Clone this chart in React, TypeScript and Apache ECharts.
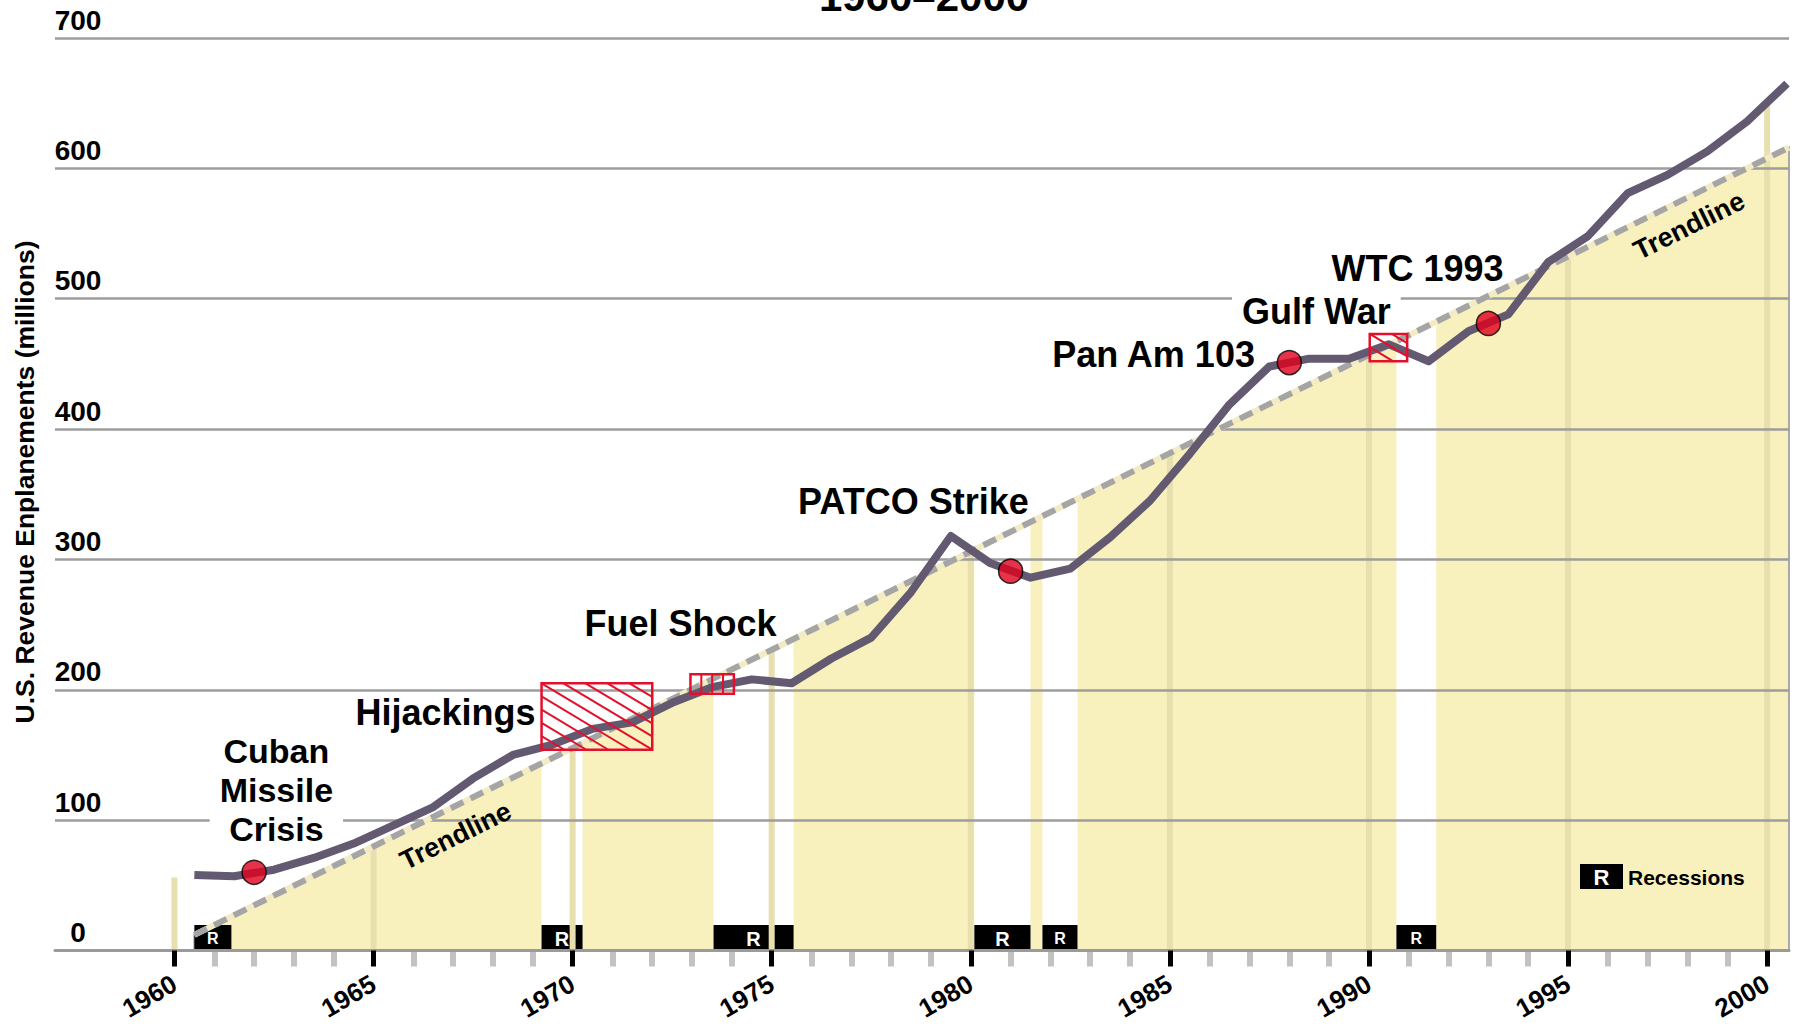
import React, { useEffect, useRef } from "react";
import * as echarts from "echarts";

// ---------- data ----------
const years = [
  1960, 1961, 1962, 1963, 1964, 1965, 1966, 1967, 1968, 1969,
  1970, 1971, 1972, 1973, 1974, 1975, 1976, 1977, 1978, 1979,
  1980, 1981, 1982, 1983, 1984, 1985, 1986, 1987, 1988, 1989,
  1990, 1991, 1992, 1993, 1994, 1995, 1996, 1997, 1998, 1999, 2000,
];
// U.S. revenue enplanements (millions), annual totals (plotted at mid-year)
const enplanements = [
  58, 57, 62, 71, 82, 96, 110, 132, 150, 158,
  170, 175, 190, 202, 208, 205, 224, 240, 275, 318,
  297, 286, 293, 317, 345, 381, 419, 448, 454, 454,
  465, 452, 475, 488, 528, 548, 581, 595, 613, 636, 665,
];

const majorYears = [1960, 1965, 1970, 1975, 1980, 1985, 1990, 1995, 2000];
const minorYears = years.filter((y) => y % 5 !== 0);
const yTicks = [0, 100, 200, 300, 400, 500, 600, 700];

// trendline end points
const trendYears = [1960.5, 2000.55];
const trendValues = [12, 616];

// height of the shaded 5-year guide lines
const guideTops = [56, 80, 155, 231, 306, 381, 457, 532, 651];

// recessions
const recessionStart = [1960.5, 1969.22, 1973.54, 1980.09, 1981.8, 1990.69];
const recessionEnd = [1961.43, 1970.25, 1975.55, 1981.5, 1982.68, 1991.69];

// events marked with a dot
const eventYears = [1962, 1981, 1988, 1993];
const eventValues = [60, 291, 451, 481];

// hatched event periods
const hatchNames = ["Hijackings", "Fuel Shock", "Gulf War"];
const hatchStart = [1969.22, 1972.96, 1990.02];
const hatchEnd = [1972.0, 1974.05, 1990.96];
const hatchLow = [154, 197, 452];
const hatchHigh = [205, 212, 473];
const hatchKind = ["diagonal", "vertical", "diagonal"];

// annotation texts
const annotationTexts = [
  "Cuban\nMissile\nCrisis",
  "Hijackings",
  "Fuel Shock",
  "PATCO Strike",
  "Pan Am 103",
  "Gulf War",
  "WTC 1993",
];
// annotation anchors (data space) + alignment
const annotationLayout = [
  { x: 1962.56, y: 123.5, align: "center", boxed: true, size: 34 },
  { x: 1969.07, y: 182.9, align: "right", boxed: false, size: 36 },
  { x: 1972.71, y: 251.2, align: "center", boxed: false, size: 36 },
  { x: 1978.56, y: 344.7, align: "center", boxed: false, size: 36 },
  { x: 1984.59, y: 457.4, align: "center", boxed: false, size: 36 },
  { x: 1988.68, y: 490.4, align: "center", boxed: true, size: 36 },
  { x: 1991.22, y: 523.4, align: "center", boxed: false, size: 36 },
];
const trendLabelLayout = [
  { x: 1967.06, y: 88 },
  { x: 1998.04, y: 556 },
];

const FONT = "'Liberation Sans', Arial, Helvetica, sans-serif";
const RED = "#e3102c";
const YELLOW = "#f8f1be";
const GUIDE = "#e7dfae";

function trendAt(yr: number) {
  const t = (yr - trendYears[0]) / (trendYears[1] - trendYears[0]);
  return trendValues[0] + t * (trendValues[1] - trendValues[0]);
}

export default function App() {
  const ref = useRef<HTMLDivElement>(null);

  useEffect(() => {
    if (!ref.current) return;
    const chart = echarts.init(ref.current, undefined, { renderer: "svg" });

    const lineData = years.map((y, i) => [y + 0.5, enplanements[i]]);
    const trendData = trendYears.map((y, i) => [y, trendValues[i]]);

    const option: any = {
      animation: false,
      backgroundColor: "#ffffff",
      grid: {
        left: 55,
        right: 8,
        top: 38,
        bottom: 75.5,
        containLabel: false,
        outerBoundsMode: "none",
      },
      xAxis: [
        {
          type: "value",
          min: 1957,
          max: 2000.55,
          position: "bottom",
          z: 5,
          axisLine: { show: true, onZero: false, lineStyle: { color: "#9a9a9a", width: 3 } },
          axisTick: {
            show: true,
            customValues: majorYears,
            length: 16,
            lineStyle: { color: "#000000", width: 5 },
          },
          axisLabel: {
            show: true,
            customValues: majorYears,
            rotate: 30,
            margin: 31,
            fontSize: 26,
            fontWeight: "bold",
            fontFamily: FONT,
            color: "#000",
            formatter: (v: number) => String(Math.round(v)),
          },
          splitLine: { show: false },
        },
        {
          type: "value",
          min: 1957,
          max: 2000.55,
          position: "bottom",
          z: 4,
          axisLine: { show: false },
          axisTick: {
            show: true,
            customValues: minorYears,
            length: 16,
            lineStyle: { color: "#c2c2c2", width: 6 },
          },
          axisLabel: { show: false },
          splitLine: { show: false },
        },
      ],
      yAxis: {
        type: "value",
        min: 0,
        max: 700,
        interval: 100,
        z: 5,
        axisLine: { show: false },
        axisTick: { show: false },
        splitLine: { show: true, lineStyle: { color: "#9d9d9d", width: 2.5 } },
        axisLabel: {
          margin: -23,
          align: "center",
          verticalAlign: "bottom",
          padding: [0, 0, 4, 0],
          fontSize: 28,
          fontWeight: "bold",
          fontFamily: FONT,
          color: "#000",
          formatter: (v: number) => (yTicks.includes(v) ? String(v) : ""),
        },
      },
      graphic: [
        {
          type: "text",
          x: 924,
          y: -3.5,
          style: {
            text: "1960\u20132000",
            fontSize: 42,
            fontWeight: "bold",
            fontFamily: FONT,
            fill: "#000",
            align: "center",
            verticalAlign: "middle",
          },
        },
        {
          type: "text",
          x: 25,
          y: 482,
          rotation: Math.PI / 2,
          style: {
            text: "U.S. Revenue Enplanements (millions)",
            fontSize: 26.5,
            fontWeight: "bold",
            fontFamily: FONT,
            fill: "#000",
            align: "center",
            verticalAlign: "middle",
          },
        },
        {
          type: "rect",
          z: 20,
          shape: { x: 1580, y: 864, width: 43, height: 25 },
          style: { fill: "#000" },
        },
        {
          type: "text",
          z: 21,
          x: 1601.5,
          y: 877,
          style: {
            text: "R",
            fontSize: 22,
            fontWeight: "bold",
            fontFamily: FONT,
            fill: "#fff",
            align: "center",
            verticalAlign: "middle",
          },
        },
        {
          type: "text",
          z: 21,
          x: 1628,
          y: 877,
          style: {
            text: "Recessions",
            fontSize: 21,
            fontWeight: "bold",
            fontFamily: FONT,
            fill: "#000",
            align: "left",
            verticalAlign: "middle",
          },
        },
      ],
      series: [
        // yellow area under trendline
        {
          type: "custom",
          z: 1,
          silent: true,
          data: [[trendYears[0], trendValues[0]]],
          renderItem: (_p: any, api: any) => {
            const p0 = api.coord([trendYears[0], 0]);
            const p1 = api.coord([trendYears[0], trendValues[0]]);
            const p2 = api.coord([trendYears[1], trendValues[1]]);
            const p3 = api.coord([trendYears[1], 0]);
            return {
              type: "polygon",
              shape: { points: [p0, p1, p2, p3] },
              style: { fill: YELLOW, stroke: "#a9a9a9", lineWidth: 2 },
            };
          },
        },
        // white gaps for recessions (first one lies before area start)
        {
          type: "custom",
          z: 2,
          silent: true,
          data: recessionStart.slice(1).map((s, i) => [s, recessionEnd[i + 1]]),
          renderItem: (_p: any, api: any) => {
            const s = api.value(0);
            const e = api.value(1);
            const pts = [
              api.coord([s, 0]),
              api.coord([s, trendAt(s)]),
              api.coord([e, trendAt(e)]),
              api.coord([e, 0]),
            ];
            return { type: "polygon", shape: { points: pts }, style: { fill: "#ffffff" } };
          },
        },
        // recession boxes
        {
          type: "custom",
          z: 3,
          silent: true,
          data: recessionStart.map((s, i) => [s, recessionEnd[i]]),
          renderItem: (_p: any, api: any) => {
            const a = api.coord([api.value(0), 19.5]);
            const b = api.coord([api.value(1), 0]);
            const w = b[0] - a[0];
            return {
              type: "group",
              children: [
                {
                  type: "rect",
                  shape: { x: a[0], y: a[1], width: w, height: b[1] - a[1] },
                  style: { fill: "#000" },
                },
                {
                  type: "text",
                  x: a[0] + w / 2,
                  y: (a[1] + b[1]) / 2 + 1,
                  style: {
                    text: "R",
                    fontSize: w < 40 ? 16 : 20,
                    fontWeight: "bold",
                    fontFamily: FONT,
                    fill: "#fff",
                    align: "center",
                    verticalAlign: "middle",
                  },
                },
              ],
            };
          },
        },
        // 5-year guide lines in the area
        {
          type: "custom",
          z: 4,
          silent: true,
          data: majorYears.map((y, i) => [y, guideTops[i]]),
          renderItem: (_p: any, api: any) => {
            const a = api.coord([api.value(0), 0]);
            const b = api.coord([api.value(0), api.value(1)]);
            return {
              type: "line",
              shape: { x1: a[0], y1: a[1], x2: b[0], y2: b[1] },
              style: { stroke: GUIDE, lineWidth: 6 },
            };
          },
        },
        // annotations (white boxes hide gridlines only; data lines draw above)
        {
          type: "custom",
          z: 6,
          silent: true,
          data: annotationTexts.map((_t, i) => [annotationLayout[i].x, annotationLayout[i].y]),
          renderItem: (p: any, api: any) => {
            const i = p.dataIndex;
            const pt = api.coord([api.value(0), api.value(1)]);
            const lay = annotationLayout[i];
            const style: any = {
              text: annotationTexts[i],
              fontSize: lay.size,
              fontWeight: "bold",
              fontFamily: FONT,
              fill: "#000",
              align: lay.align,
              verticalAlign: "middle",
              lineHeight: 39,
            };
            if (lay.boxed) {
              style.backgroundColor = "#ffffff";
              style.padding = [0, 10, 0, 10];
            }
            return { type: "text", x: pt[0], y: pt[1], style };
          },
        },
        // trendline: pale base + grey dashes
        {
          type: "line",
          z: 7,
          silent: true,
          data: trendData,
          symbol: "none",
          lineStyle: { color: "#f2ebc4", width: 6 },
        },
        {
          type: "line",
          z: 7,
          silent: true,
          data: trendData,
          symbol: "none",
          lineStyle: { color: "#a5a5a5", width: 6, type: [14, 8] },
        },
        // enplanements line
        {
          type: "line",
          z: 8,
          silent: true,
          data: lineData,
          symbol: "none",
          lineStyle: { color: "#635a72", width: 8, join: "round" },
        },
        // hatched boxes
        {
          type: "custom",
          z: 9,
          silent: true,
          data: hatchNames.map((_n, i) => [hatchStart[i], hatchEnd[i], hatchLow[i], hatchHigh[i]]),
          renderItem: (p: any, api: any) => {
            const i = p.dataIndex;
            const tl = api.coord([api.value(0), api.value(3)]);
            const br = api.coord([api.value(1), api.value(2)]);
            const x0 = tl[0], y0 = tl[1], x1 = br[0], y1 = br[1];
            const children: any[] = [];
            if (hatchKind[i] === "vertical") {
              const w = x1 - x0;
              const n = Math.max(1, Math.round(w / 11) - 1);
              for (let j = 1; j <= n; j++) {
                const x = x0 + (j * w) / (n + 1);
                children.push({
                  type: "line",
                  shape: { x1: x, y1: y0, x2: x, y2: y1 },
                  style: { stroke: RED, lineWidth: 2 },
                });
              }
            } else {
              const k = 0.6;
              const dc = 13.2;
              const cMin = y0 - k * x1;
              const cMax = y1 - k * x0;
              const c0 = y0 - k * x0;
              let c = c0 - Math.floor((c0 - cMin) / dc) * dc;
              for (; c <= cMax; c += dc) {
                const xa = Math.max(x0, (y0 - c) / k);
                const xb = Math.min(x1, (y1 - c) / k);
                if (xb - xa > 1) {
                  children.push({
                    type: "line",
                    shape: { x1: xa, y1: k * xa + c, x2: xb, y2: k * xb + c },
                    style: { stroke: RED, lineWidth: 2 },
                  });
                }
              }
            }
            children.push({
              type: "rect",
              shape: { x: x0, y: y0, width: x1 - x0, height: y1 - y0 },
              style: { fill: "none", stroke: RED, lineWidth: 2.5 },
            });
            return { type: "group", children };
          },
        },
        // event dots
        {
          type: "scatter",
          z: 10,
          silent: true,
          data: eventYears.map((y, i) => [y, eventValues[i]]),
          symbol: "circle",
          symbolSize: 24,
          itemStyle: { color: "#e0001b", borderColor: "#000", borderWidth: 1.5 },
        },
        // trendline labels
        {
          type: "custom",
          z: 10,
          silent: true,
          data: trendLabelLayout.map((l) => [l.x, l.y]),
          renderItem: (_p: any, api: any) => {
            const pt = api.coord([api.value(0), api.value(1)]);
            const a = api.coord([trendYears[0], trendValues[0]]);
            const b = api.coord([trendYears[1], trendValues[1]]);
            const ang = Math.atan2(a[1] - b[1], b[0] - a[0]);
            return {
              type: "text",
              x: pt[0],
              y: pt[1],
              rotation: ang,
              style: {
                text: "Trendline",
                fontSize: 27,
                fontWeight: "bold",
                fontFamily: FONT,
                fill: "#000",
                align: "center",
                verticalAlign: "middle",
              },
            };
          },
        },
      ],
    };

    chart.setOption(option);
    return () => chart.dispose();
  }, []);

  return (
    <div
      ref={ref}
      style={{ position: "fixed", left: 0, top: 0, width: 1797, height: 1026, background: "#fff" }}
    />
  );
}
